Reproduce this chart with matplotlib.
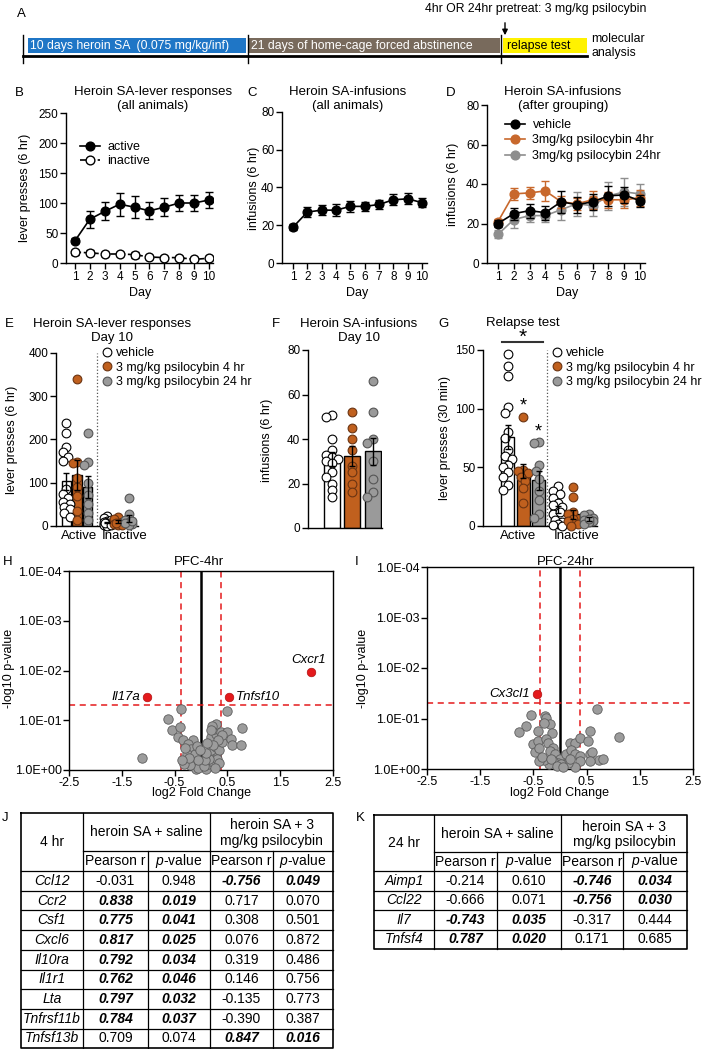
import numpy as np
import matplotlib
matplotlib.use("Agg")
import matplotlib.pyplot as plt
from matplotlib.lines import Line2D

plt.rcParams['font.family'] = ['Liberation Sans', 'DejaVu Sans']
plt.rcParams['mathtext.fontset'] = 'custom'
plt.rcParams['mathtext.rm'] = 'Liberation Sans'
plt.rcParams['mathtext.it'] = 'Liberation Sans:italic'
plt.rcParams['mathtext.bf'] = 'Liberation Sans:bold'
plt.rcParams['axes.linewidth'] = 1.0

# ---------------- data ----------------
days = list(range(1, 11))
b_active = [37, 73, 86, 98, 93, 87, 93, 100, 100, 105]
b_active_sem = [4, 14, 15, 19, 18, 14, 15, 14, 14, 14]
b_inactive = [18, 17, 15, 15, 14, 10, 9, 9, 6, 8]
b_inactive_sem = [4, 4, 4, 4, 5, 3, 3, 3, 2, 3]

c_inf = [19, 27, 28, 28, 30, 30, 31, 33.5, 34, 32]
c_inf_sem = [1.5, 2.5, 2.5, 3, 3, 2.5, 2.5, 3, 3, 2.5]

d_vehicle = [20, 25, 26.5, 25.5, 31, 29.5, 31, 34, 34.5, 31.5]
d_vehicle_sem = [2, 3, 3.5, 3.5, 5.5, 4, 4, 5, 4, 3]
d_4hr = [21, 35, 35.5, 36.5, 31, 30, 32, 32, 32, 33]
d_4hr_sem = [1.5, 3, 3, 5, 3, 3, 4.5, 4, 4, 4]
d_24hr = [14.5, 22, 24, 24, 27, 30, 29, 34, 36, 35]
d_24hr_sem = [2, 4.5, 3, 3, 5, 6, 5, 7, 7, 5]

groups = ['vehicle', '3 mg/kg psilocybin 4 hr', '3 mg/kg psilocybin 24 hr']
d_labels = ['vehicle', '3mg/kg psilocybin 4hr', '3mg/kg psilocybin 24hr']
lever_cats = ['Active', 'Inactive']

e_means = [[103, 118, 90], [8, 10, 18]]
e_sems = [[20, 35, 25], [2, 3, 8]]
e_active_vehicle = [238, 215, 182, 170, 160, 150, 85, 75, 65, 55, 50, 45, 40, 30, 20]
e_active_4hr = [340, 148, 146, 110, 90, 70, 35, 15]
e_active_24hr = [215, 148, 142, 100, 72, 50, 30, 15]
e_inactive_vehicle = [22, 18, 12, 8, 5, 3, 2, 10, 15, 6, 4, 2, 1, 7, 3]
e_inactive_4hr = [20, 16, 10, 6, 4, 3, 2, 8]
e_inactive_24hr = [65, 28, 15, 10, 5, 3, 8, 12]

f_means = [31, 32.5, 34.5]
f_sems = [3, 4.5, 6]
f_vehicle = [51, 50, 40, 35, 33, 32, 31, 30, 29, 25, 23, 20, 17, 14]
f_4hr = [52, 45, 40, 35, 28, 25, 20, 16]
f_24hr = [66, 52, 40, 38, 30, 22, 16, 14]

g_means = [[76, 47, 39], [14, 10, 6]]
g_sems = [[10, 6, 8], [3, 4, 1.5]]
g_active_vehicle = [147, 136, 128, 101, 96, 80, 75, 65, 60, 57, 52, 50, 46, 42, 35, 31]
g_active_4hr = [93, 48, 47, 45, 42, 38, 32, 20]
g_active_24hr = [72, 71, 52, 47, 40, 30, 22, 10, 7]
g_inactive_vehicle = [34, 30, 27, 24, 20, 16, 14, 10, 8, 5, 3, 2, 1, 0, 12, 18]
g_inactive_4hr = [33, 25, 12, 10, 6, 4, 2, 0]
g_inactive_24hr = [10, 9, 7, 5, 4, 3, 2, 6]

h_fc = [-0.385, 0.49, -0.62, -0.555, -0.40, -0.43, -0.34, -0.146, -0.24, -0.18,
        -0.27, -0.12, -0.28, -0.15, -0.09, 0.10, 0.0, 0.13, 0.22, 0.28,
        0.13, 0.19, 0.28, 0.34, 0.25, 0.40, 0.19, 0.28, 0.25, 0.28,
        0.21, 0.37, 0.50, 0.56, 0.59, 0.75, 0.78, -1.11, 0.40, 0.19,
        -0.05, 0.05, -0.20, -0.32, 0.30, 0.15, 0.08, -0.05, 0.32, 0.22,
        0.10, -0.08, -0.30, -0.22, 0.35, 0.26, -0.36, 0.12, -0.02]
h_nlogp = [1.23, 1.19, 1.02, 0.80, 0.87, 0.67, 0.60, 0.61, 0.53, 0.43,
           0.33, 0.33, 0.17, 0.17, 0.03, 0.03, 0.10, 0.13, 0.17, 0.30,
           0.30, 0.40, 0.47, 0.40, 0.57, 0.57, 0.67, 0.73, 0.83, 0.93,
           0.88, 0.77, 0.77, 0.63, 0.50, 0.50, 0.85, 0.25, 0.70, 0.80,
           0.05, 0.08, 0.10, 0.12, 0.22, 0.22, 0.20, 0.20, 0.60, 0.50,
           0.35, 0.48, 0.45, 0.25, 0.15, 0.05, 0.20, 0.55, 0.40]
h_sig_genes = ['Il17a', 'Tnfsf10', 'Cxcr1']
h_sig_fc = [-1.02, 0.53, 2.08]
h_sig_nlogp = [1.46, 1.46, 1.96]

i_fc = [0.69, -0.55, -0.28, -0.26, -0.19, -0.31, -0.64, -0.78, -0.42, -0.15,
        0.56, 1.10, -0.51, -0.42, -0.26, -0.22, -0.13, 0.19, 0.28, 0.37,
        0.52, -0.47, -0.40, -0.19, -0.09, 0.0, 0.12, 0.21, 0.28, 0.37,
        0.56, 0.61, 0.73, 0.81, 0.56, 0.37, 0.28, 0.08, -0.03, -0.13,
        -0.20, -0.31, -0.40, -0.34, 0.15, 0.02, 0.18, -0.16, -0.05, 0.05]
i_nlogp = [1.18, 1.07, 1.05, 1.01, 0.90, 0.92, 0.85, 0.74, 0.76, 0.72,
           0.76, 0.63, 0.50, 0.55, 0.59, 0.51, 0.41, 0.51, 0.51, 0.61,
           0.55, 0.33, 0.42, 0.36, 0.29, 0.19, 0.29, 0.38, 0.29, 0.26,
           0.29, 0.33, 0.17, 0.19, 0.15, 0.15, 0.04, 0.09, 0.12, 0.15,
           0.09, 0.18, 0.15, 0.23, 0.12, 0.09, 0.19, 0.19, 0.05, 0.03]
i_sig_genes = ['Cx3cl1']
i_sig_fc = [-0.43]
i_sig_nlogp = [1.49]

fc_cut = 0.38
p_cut = 0.05
volcano_yticklabels = ['1.0E+00', '1.0E-01', '1.0E-02', '1.0E-03', '1.0E-04']
volcano_xticks = [-2.5, -1.5, -0.5, 0.5, 1.5, 2.5]

j_genes = ['Ccl12', 'Ccr2', 'Csf1', 'Cxcl6', 'Il10ra', 'Il1r1', 'Lta', 'Tnfrsf11b', 'Tnfsf13b']
j_r_saline = [-0.031, 0.838, 0.775, 0.817, 0.792, 0.762, 0.797, 0.784, 0.709]
j_p_saline = [0.948, 0.019, 0.041, 0.025, 0.034, 0.046, 0.032, 0.037, 0.074]
j_r_psilo = [-0.756, 0.717, 0.308, 0.076, 0.319, 0.146, -0.135, -0.390, 0.847]
j_p_psilo = [0.049, 0.070, 0.501, 0.872, 0.486, 0.756, 0.773, 0.387, 0.016]

k_genes = ['Aimp1', 'Ccl22', 'Il7', 'Tnfsf4']
k_r_saline = [-0.214, -0.666, -0.743, 0.787]
k_p_saline = [0.610, 0.071, 0.035, 0.020]
k_r_psilo = [-0.746, -0.756, -0.317, 0.171]
k_p_psilo = [0.034, 0.030, 0.444, 0.685]

# ---------------- styles ----------------
ORANGE = '#C0601E'
ORANGE_D = '#C8682C'
GRAY = '#9A9A9A'
GRAY_D = '#8E8E8E'
RED = '#E41A1C'
group_face = ['white', ORANGE, GRAY]
group_dot_edge = ['black', '#6b3412', '#555555']

W, H = 704, 1049
fig = plt.figure(figsize=(W / 100, H / 100), dpi=100)
ov = fig.add_axes([0, 0, 1, 1], zorder=10)
ov.set_xlim(0, W)
ov.set_ylim(H, 0)
ov.axis('off')
ov.patch.set_alpha(0)


def axpx(l, t, r, b):
    return fig.add_axes([l / W, 1 - b / H, (r - l) / W, (b - t) / H])


def prism(ax, ls=8.5):
    for s in ['top', 'right']:
        ax.spines[s].set_visible(False)
    ax.tick_params(direction='out', length=4, width=1, labelsize=ls, pad=1.5)


def swarm(values, xppu, yppu, dot=8.5, step=2.2, maxk=2):
    vals = np.asarray(values, float)
    order = np.argsort(-vals)
    placed = []
    off = np.zeros(len(vals))
    cands = [0.0]
    for k in range(1, maxk + 1):
        cands += [-k * step, k * step]
    for i in order:
        y = vals[i] * yppu
        best = None
        for c in cands:
            if all((c - px) ** 2 + (y - py) ** 2 >= (dot * 0.7) ** 2 for px, py in placed):
                best = c
                break
        if best is None:
            best = max(cands, key=lambda c: min((c - px) ** 2 + (y - py) ** 2 for px, py in placed))
        placed.append((best, y))
        off[i] = best / xppu
    return off


def plabel(x, y, s):
    ov.text(x, y, s, fontsize=9.5, ha='left', va='center')


# ---------------- Panel A ----------------
plabel(17, 14, 'A')
ov.add_patch(plt.Rectangle((28, 38), 218, 15, color='#1F76C6', lw=0))
ov.add_patch(plt.Rectangle((248, 38), 252, 15, color='#786A5C', lw=0))
ov.add_patch(plt.Rectangle((503, 38), 84, 15, color='#FFF200', lw=0))
ov.text(30, 45.5, '10 days heroin SA  (0.075 mg/kg/inf)', color='white', fontsize=8.8, ha='left', va='center')
ov.text(251, 45.5, '21 days of home-cage forced abstinence', color='white', fontsize=8.8, ha='left', va='center')
ov.text(507, 45.5, 'relapse test', color='black', fontsize=8.8, ha='left', va='center')
ov.plot([23, 587], [56, 56], color='black', lw=2)
for tx in [23, 248, 501]:
    ov.plot([tx, tx], [35, 63], color='black', lw=1)
ov.annotate('', xy=(505, 38), xytext=(505, 20),
            arrowprops=dict(arrowstyle='-|>', color='black', lw=1, mutation_scale=8))
ov.text(536, 9, '4hr OR 24hr pretreat: 3 mg/kg psilocybin', fontsize=8.8, ha='center', va='center')
ov.text(591, 39, 'molecular', fontsize=8.8, ha='left', va='center')
ov.text(591, 53, 'analysis', fontsize=8.8, ha='left', va='center')

# ---------------- Panel B ----------------
plabel(15, 93, 'B')
ov.text(153, 99, 'Heroin SA-lever responses\n(all animals)', fontsize=9.5, ha='center', va='center', linespacing=1.25)
axB = axpx(66, 113, 213, 263)
prism(axB)
axB.errorbar(days, b_active, yerr=b_active_sem, fmt='-o', color='black', ms=6.3, lw=1.2,
             elinewidth=1, capsize=3, capthick=1, zorder=3)
axB.errorbar(days, b_inactive, yerr=b_inactive_sem, fmt='--o', color='black', mfc='white', ms=6.3,
             lw=1.2, elinewidth=1, capsize=3, capthick=1, zorder=3)
axB.set_xlim(0.40, 10.27)
axB.set_ylim(0, 250)
axB.set_yticks([0, 50, 100, 150, 200, 250])
axB.set_xticks(days)
hB = [Line2D([], [], color='black', marker='o', ms=6.3, lw=1.2),
      Line2D([], [], color='black', marker='o', mfc='white', ms=6.3, lw=1.2, ls='--')]
fig.legend(hB, ['active', 'inactive'], loc='upper left', bbox_to_anchor=(80 / W, 1 - 141 / H),
           frameon=False, fontsize=9, handlelength=1.6, handletextpad=0.6, labelspacing=0.15,
           borderpad=0, borderaxespad=0)
ov.text(25, 188, 'lever presses (6 hr)', rotation=90, fontsize=9, ha='center', va='center')
ov.text(140, 293, 'Day', fontsize=9, ha='center', va='center')

# ---------------- Panel C ----------------
plabel(247, 93, 'C')
ov.text(348, 99, 'Heroin SA-infusions\n(all animals)', fontsize=9.5, ha='center', va='center', linespacing=1.25)
axC = axpx(282, 112, 427, 263)
prism(axC)
axC.errorbar(days, c_inf, yerr=c_inf_sem, fmt='-o', color='black', ms=6.3, lw=1.2,
             elinewidth=1, capsize=3, capthick=1)
axC.set_xlim(0.23, 10.35)
axC.set_ylim(0, 80)
axC.set_yticks([0, 20, 40, 60, 80])
axC.set_xticks(days)
ov.text(254, 188, 'infusions (6 hr)', rotation=90, fontsize=9, ha='center', va='center')
ov.text(357, 293, 'Day', fontsize=9, ha='center', va='center')

# ---------------- Panel D ----------------
plabel(446, 93, 'D')
ov.text(563, 99, 'Heroin SA-infusions\n(after grouping)', fontsize=9.5, ha='center', va='center', linespacing=1.25)
axD = axpx(487, 105, 645, 263)
prism(axD)
for vals, sems, col, z in [(d_24hr, d_24hr_sem, GRAY_D, 2), (d_4hr, d_4hr_sem, ORANGE_D, 3),
                           (d_vehicle, d_vehicle_sem, 'black', 4)]:
    axD.errorbar(days, vals, yerr=sems, fmt='-o', color=col, ms=6.3, lw=1.2, elinewidth=1,
                 capsize=3, capthick=1, zorder=z)
axD.set_xlim(0.30, 10.32)
axD.set_ylim(0, 80)
axD.set_yticks([0, 20, 40, 60, 80])
axD.set_xticks(days)
hD = [Line2D([], [], color=c, marker='o', ms=6.3, lw=1.2) for c in ['black', ORANGE_D, GRAY_D]]
fig.legend(hD, d_labels, loc='upper left', bbox_to_anchor=(505 / W, 1 - 119 / H),
           frameon=False, fontsize=9, handlelength=1.6, handletextpad=0.6, labelspacing=0.28,
           borderpad=0, borderaxespad=0)
ov.text(453, 184, 'infusions (6 hr)', rotation=90, fontsize=9, ha='center', va='center')
ov.text(567, 293, 'Day', fontsize=9, ha='center', va='center')


# ---------------- bar + dot panels ----------------
def bar_dots(ax, centers, offsets, width, means, sems, dots, xppu, yppu, step):
    for g, c in enumerate(centers):
        for k in range(3):
            x = c + offsets[k]
            ax.bar(x, means[g][k], width=width, color=group_face[k], edgecolor='black', lw=1, zorder=2)
            sw = swarm(dots[g][k], xppu, yppu, step=step)
            ax.plot(x + sw, dots[g][k], 'o', ms=6.3, mfc=group_face[k], mec=group_dot_edge[k],
                    mew=0.8, zorder=3, clip_on=False)
            ax.errorbar(x, means[g][k], yerr=sems[g][k], color='black', lw=1, capsize=2.5,
                        capthick=1, zorder=4)


def dot_legend(x, y):
    hh = [Line2D([], [], ls='none', marker='o', ms=6.3, mfc=group_face[k], mec=group_dot_edge[k], mew=0.8)
          for k in range(3)]
    fig.legend(hh, groups, loc='upper left', bbox_to_anchor=(x / W, 1 - y / H), frameon=False,
               fontsize=9, handlelength=0.6, handletextpad=0.4, labelspacing=0.2,
               borderpad=0, borderaxespad=0)


# Panel E
plabel(5, 324, 'E')
ov.text(112, 331, 'Heroin SA-lever responses\nDay 10', fontsize=9.5, ha='center', va='center', linespacing=1.25)
axE = axpx(56, 353, 138, 526)
prism(axE)
e_dots = [[e_active_vehicle, e_active_4hr, e_active_24hr],
          [e_inactive_vehicle, e_inactive_4hr, e_inactive_24hr]]
bar_dots(axE, [0, 1], [-0.26, 0, 0.26], 0.23, e_means, e_sems, e_dots, 41, 173 / 400, 1.8)
axE.axvline(0.5, color='#555555', ls=':', lw=0.9)
axE.set_xlim(-0.51, 1.49)
axE.set_ylim(0, 400)
axE.set_yticks([0, 100, 200, 300, 400])
axE.set_xticks([0.05, 1.17])
axE.set_xticklabels(lever_cats, fontsize=9.5)
axE.tick_params(axis='x', length=0, pad=3)
dot_legend(103, 347)
ov.text(12, 440, 'lever presses (6 hr)', rotation=90, fontsize=9, ha='center', va='center')

# Panel F
plabel(272, 324, 'F')
ov.text(359, 331, 'Heroin SA-infusions\nDay 10', fontsize=9.5, ha='center', va='center', linespacing=1.25)
axF = axpx(308, 350, 382, 528)
prism(axF)
for k in range(3):
    axF.bar(k, f_means[k], width=0.78, color=group_face[k], edgecolor='black', lw=1, zorder=2)
    fd = [f_vehicle, f_4hr, f_24hr][k]
    axF.plot(k + swarm(fd, 20.5, 178 / 80, step=3.0), fd, 'o', ms=6.3, mfc=group_face[k],
             mec=group_dot_edge[k], mew=0.8, zorder=3)
    axF.errorbar(k, f_means[k], yerr=f_sems[k], color='black', lw=1, capsize=2.5, capthick=1, zorder=4)
axF.set_xlim(-1.15, 2.46)
axF.set_ylim(0, 80)
axF.set_yticks([0, 20, 40, 60, 80])
axF.set_xticks([])
ov.text(267, 440, 'infusions (6 hr)', rotation=90, fontsize=9, ha='center', va='center')

# Panel G
plabel(438, 324, 'G')
ov.text(523, 323, 'Relapse test', fontsize=9.5, ha='center', va='center')
axG = axpx(483, 350, 597, 526)
prism(axG)
g_dots = [[g_active_vehicle, g_active_4hr, g_active_24hr],
          [g_inactive_vehicle, g_inactive_4hr, g_inactive_24hr]]
bar_dots(axG, [0, 1], [-0.31, 0, 0.31], 0.26, g_means, g_sems, g_dots, 50, 176 / 150, 2.3)
axG.axvline(0.48, color='#555555', ls=':', lw=0.9)
axG.set_xlim(-0.8, 1.48)
axG.set_ylim(0, 150)
axG.set_yticks([0, 50, 100, 150])
axG.set_xticks([-0.1, 0.08 + 1])
axG.set_xticklabels(lever_cats, fontsize=9.5)
axG.tick_params(axis='x', length=0, pad=3)
axG.plot([-0.42, 0.40], [157, 157], color='#333333', lw=1.5, clip_on=False)
axG.text(0, 161, '*', fontsize=15, ha='center', va='center', clip_on=False)
axG.text(0, 102, '*', fontsize=13, ha='center', va='center')
axG.text(0.31, 80, '*', fontsize=13, ha='center', va='center')
dot_legend(553, 347)
ov.text(445, 438, 'lever presses (30 min)', rotation=90, fontsize=9, ha='center', va='center')


# ---------------- volcano plots ----------------
def volcano(ax, fc, nlogp, sfc, snlogp, sgenes, placements):
    ax.axvline(0, color='black', lw=1.8, zorder=1)
    for v in (-fc_cut, fc_cut):
        ax.axvline(v, color=RED, lw=1.1, ls=(0, (4, 3)), zorder=1)
    ax.axhline(-np.log10(p_cut), color=RED, lw=1.1, ls=(0, (4, 3)), zorder=1)
    ax.scatter(fc, nlogp, s=46, c='#9C9C9C', edgecolors='#5C5C5C', linewidths=0.6, zorder=3, clip_on=False)
    ax.scatter(sfc, snlogp, s=38, c=RED, edgecolors='#B01010', linewidths=0.5, zorder=4)
    for g, x, y, pl in zip(sgenes, sfc, snlogp, placements):
        if pl == 'left':
            ax.annotate(g, (x, y), xytext=(-7, 0), textcoords='offset pixels', ha='right', va='center',
                        fontsize=9.5, style='italic')
        elif pl == 'right':
            ax.annotate(g, (x, y), xytext=(7, 0), textcoords='offset pixels', ha='left', va='center',
                        fontsize=9.5, style='italic')
        else:
            ax.annotate(g, (x, y), xytext=(-2, 12), textcoords='offset pixels', ha='center', va='center',
                        fontsize=9.5, style='italic')
    ax.set_xlim(-2.5, 2.5)
    ax.set_ylim(0, 4)
    ax.set_yticks([0, 1, 2, 3, 4])
    ax.set_yticklabels(volcano_yticklabels)
    ax.set_xticks(volcano_xticks)
    ax.set_xticklabels([f'{v:g}' for v in volcano_xticks])
    ax.tick_params(direction='out', length=4, width=1, labelsize=9, pad=1)


plabel(3, 562, 'H')
ov.text(199, 562, 'PFC-4hr', fontsize=9.5, ha='center', va='center')
axH = axpx(69, 571, 333, 770)
volcano(axH, h_fc, h_nlogp, h_sig_fc, h_sig_nlogp, h_sig_genes, ['left', 'right', 'above'])
ov.text(9, 668, '-log10 p-value', rotation=90, fontsize=9, ha='center', va='center')
ov.text(201, 793, 'log2 Fold Change', fontsize=9, ha='center', va='center')

plabel(355, 562, 'I')
ov.text(566, 562, 'PFC-24hr', fontsize=9.5, ha='center', va='center')
axI = axpx(427, 567, 693, 769)
volcano(axI, i_fc, i_nlogp, i_sig_fc, i_sig_nlogp, i_sig_genes, ['left'])
ov.text(363, 668, '-log10 p-value', rotation=90, fontsize=9, ha='center', va='center')
ov.text(560, 793, 'log2 Fold Change', fontsize=9, ha='center', va='center')


# ---------------- tables ----------------
def draw_table(xs, y0, y1, y2, rh, corner, genes, r_s, p_s, r_p, p_p):
    n = len(genes)
    yb = y2 + n * rh
    lw = 0.9
    ov.plot([xs[0], xs[5], xs[5], xs[0], xs[0]], [y0, y0, yb, yb, y0], color='black', lw=1.2)
    ov.plot([xs[1], xs[5]], [y1, y1], color='black', lw=lw)
    for j in range(n):
        y = y2 + j * rh
        ov.plot([xs[0], xs[5]], [y, y], color='black', lw=lw)
    for c in (1, 3):
        ov.plot([xs[c], xs[c]], [y0, yb], color='black', lw=lw)
    for c in (2, 4):
        ov.plot([xs[c], xs[c]], [y1, yb], color='black', lw=lw)
    fs = 10
    ov.text((xs[0] + xs[1]) / 2, (y0 + y2) / 2, corner, fontsize=fs, ha='center', va='center')
    ov.text((xs[1] + xs[3]) / 2, (y0 + y1) / 2, 'heroin SA + saline', fontsize=fs, ha='center', va='center')
    ov.text((xs[3] + xs[5]) / 2, (y0 + y1) / 2 + 1, 'heroin SA + 3\nmg/kg psilocybin', fontsize=fs,
            ha='center', va='center', linespacing=1.15)
    for c in range(4):
        s = 'Pearson r' if c % 2 == 0 else r'$\it{p}$-value'
        ov.text((xs[c + 1] + xs[c + 2]) / 2, (y1 + y2) / 2, s, fontsize=fs, ha='center', va='center')
    for j, g in enumerate(genes):
        yc = y2 + (j + 0.5) * rh
        ov.text((xs[0] + xs[1]) / 2, yc, g, fontsize=fs, ha='center', va='center', style='italic')
        sig_s = p_s[j] < 0.05
        sig_p = p_p[j] < 0.05
        vals = [(r_s[j], sig_s), (p_s[j], sig_s), (r_p[j], sig_p), (p_p[j], sig_p)]
        for c, (v, sig) in enumerate(vals):
            kw = dict(style='italic', weight='bold') if sig else {}
            ov.text((xs[c + 1] + xs[c + 2]) / 2, yc, f'{v:.3f}', fontsize=fs, ha='center', va='center', **kw)


plabel(2, 818, 'J')
draw_table([21, 83, 148, 210, 273, 333], 813, 851, 871, 19.7, '4 hr', j_genes,
           j_r_saline, j_p_saline, j_r_psilo, j_p_psilo)
plabel(356, 818, 'K')
draw_table([374, 434, 497, 561, 623, 687], 815, 852, 871, 19.5, '24 hr', k_genes,
           k_r_saline, k_p_saline, k_r_psilo, k_p_psilo)

fig.savefig('out.png', dpi=100)
